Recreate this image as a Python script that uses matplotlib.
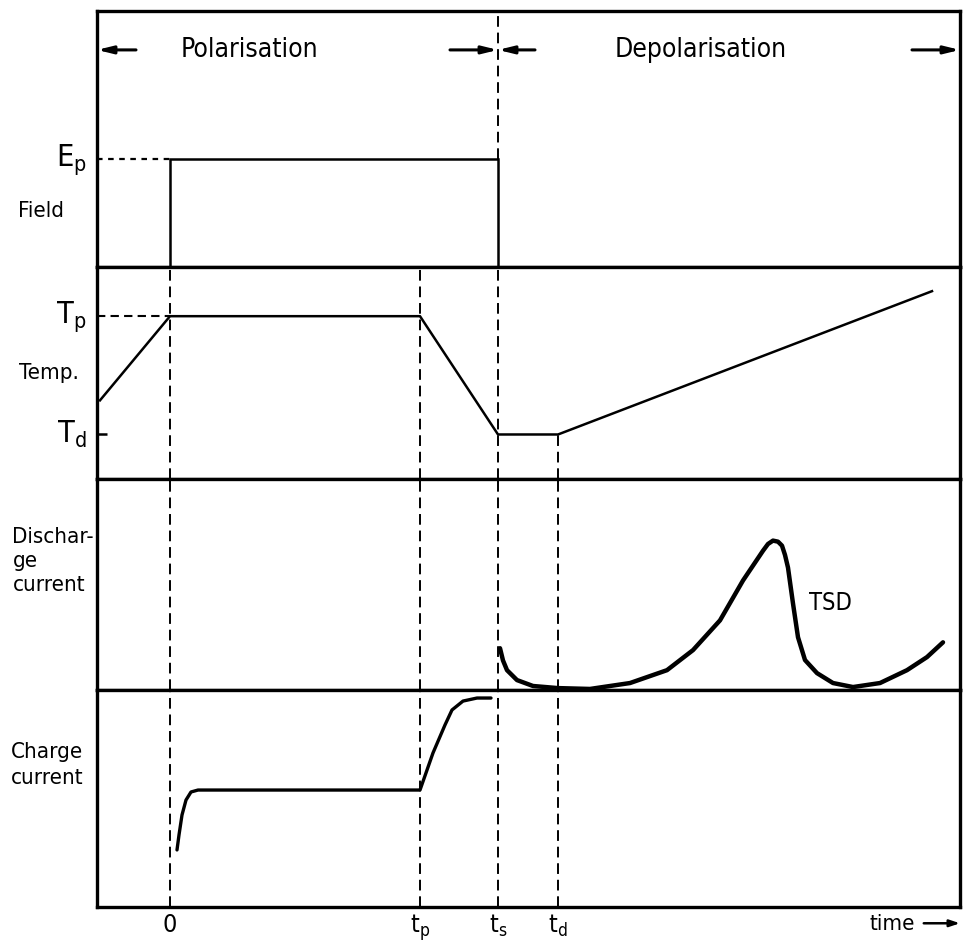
import matplotlib
matplotlib.use("Agg")
import matplotlib.pyplot as plt

plt.rcParams['font.family'] = ['DejaVu Sans']
plt.rcParams['font.stretch'] = 'condensed'
plt.rcParams['mathtext.fontset'] = 'custom'
plt.rcParams['mathtext.rm'] = 'DejaVu Sans:stretch=condensed'

# time axis (arbitrary units)
t_min, t_max = -7.3, 79.0
t_marks = [0, 25.0, 32.8, 38.8]
t_labels = ['0', r't$_\mathrm{p}$', r't$_\mathrm{s}$', r't$_\mathrm{d}$']

# field panel
Ep = 0.42
field_t = [0, 0, 32.8, 32.8]
field_v = [0, Ep, Ep, 0]

# temperature panel
Tp = 0.768
Td = 0.21
temp_t = [-7.0, 0, 25.0, 32.8, 38.8, 76.2]
temp_v = [0.371, Tp, Tp, Td, Td, 0.886]

# discharge current (TSD)
dis_t = [33.0, 33.3, 33.7, 34.7, 36.3, 38.8, 42.0, 46.0, 49.7, 52.3, 55.0, 57.3, 59.3,
         59.8, 60.3, 60.8, 61.2, 61.5, 61.8, 62.3, 62.8, 63.5, 64.7, 66.3, 68.3, 71.0,
         73.7, 75.7, 77.3]
dis_v = [0.198, 0.140, 0.094, 0.047, 0.019, 0.009, 0.005, 0.033, 0.094, 0.189, 0.330, 0.519,
         0.660, 0.692, 0.708, 0.703, 0.684, 0.640, 0.580, 0.410, 0.250, 0.142, 0.080, 0.033,
         0.014, 0.033, 0.094, 0.156, 0.226]

# charge current
chg_t = [0.7, 0.9, 1.2, 1.6, 2.1, 2.8, 25.0, 26.3, 27.5, 28.2, 29.3, 30.7, 32.1]
chg_v = [0.263, 0.332, 0.424, 0.493, 0.530, 0.539, 0.539, 0.710, 0.839, 0.908, 0.949, 0.963, 0.963]

fig = plt.figure(figsize=(9.65, 9.5), dpi=100)
W, H = 965.0, 950.0
left, right = 97, 960
bounds = [11, 267, 479, 690, 907]
axes = []
for i in range(4):
    top, bot = bounds[i], bounds[i + 1]
    ax = fig.add_axes([left / W, 1 - bot / H, (right - left) / W, (bot - top) / H])
    ax.set_xlim(t_min, t_max)
    ax.set_ylim(0, 1)
    ax.set_xticks([])
    ax.set_yticks([])
    for s in ax.spines.values():
        s.set_linewidth(2.4)
    axes.append(ax)
ax_f, ax_t, ax_d, ax_c = axes

dash = (0, (5.5, 3))
dlw = 1.4

# --- Field
ax_f.plot(field_t, field_v, color='k', lw=1.8, solid_joinstyle='miter')
ax_f.hlines(Ep, t_min, 0, colors='k', lw=1.6, linestyles=(0, (2.5, 2.5)))
ax_f.vlines(t_marks[2], Ep, 1, colors='k', lw=dlw, linestyles=dash)
arr_y = 0.848
ap = dict(arrowstyle='-|>,head_length=0.9,head_width=0.22', color='k', lw=2.2, shrinkA=0, shrinkB=0)
ax_f.annotate('', xy=(t_min, arr_y), xytext=(-3.4, arr_y), arrowprops=ap)
ax_f.annotate('', xy=(t_marks[2], arr_y), xytext=(28.0, arr_y), arrowprops=ap)
ax_f.annotate('', xy=(t_marks[2], arr_y), xytext=(36.5, arr_y), arrowprops=ap)
ax_f.annotate('', xy=(t_max, arr_y), xytext=(74.2, arr_y), arrowprops=ap)
ax_f.text(7.9, arr_y, 'Polarisation', ha='center', va='center', fontsize=19)
ax_f.text(53.1, arr_y, 'Depolarisation', ha='center', va='center', fontsize=19)
ax_f.text(-0.012, Ep, r'E$_\mathrm{p}$', transform=ax_f.get_yaxis_transform(),
          ha='right', va='center', fontsize=22)
ax_f.text(-0.092, 0.22, 'Field', transform=ax_f.transAxes, ha='left', va='center', fontsize=16)

# --- Temperature
ax_t.plot(temp_t, temp_v, color='k', lw=1.8)
ax_t.hlines(Tp, t_min, 0, colors='k', lw=1.5, linestyles=(0, (4, 2.5)))
ax_t.set_yticks([Td])
ax_t.set_yticklabels([])
ax_t.tick_params(axis='y', direction='in', length=7, width=1.8)
for tm in t_marks[:3]:
    ax_t.vlines(tm, 0, 1, colors='k', lw=dlw, linestyles=dash)
ax_t.vlines(t_marks[3], 0, Td, colors='k', lw=dlw, linestyles=dash)
ax_t.text(-0.012, Tp, r'T$_\mathrm{p}$', transform=ax_t.get_yaxis_transform(),
          ha='right', va='center', fontsize=22)
ax_t.text(-0.012, Td, r'T$_\mathrm{d}$', transform=ax_t.get_yaxis_transform(),
          ha='right', va='center', fontsize=22)
ax_t.text(-0.09, 0.50, 'Temp.', transform=ax_t.transAxes, ha='left', va='center', fontsize=16)

# --- Discharge current
ax_d.plot(dis_t, dis_v, color='k', lw=3.2, solid_capstyle='round', solid_joinstyle='round')
for tm in t_marks:
    ax_d.vlines(tm, 0, 1, colors='k', lw=dlw, linestyles=dash)
ax_d.text(66.0, 0.41, 'TSD', ha='center', va='center', fontsize=17)
ax_d.text(-0.098, 0.61, 'Dischar-\nge\ncurrent', transform=ax_d.transAxes,
          ha='left', va='center', fontsize=16, linespacing=1.25)

# --- Charge current
ax_c.plot(chg_t, chg_v, color='k', lw=2.4, solid_capstyle='round', solid_joinstyle='round')
for tm in t_marks:
    ax_c.vlines(tm, 0, 1, colors='k', lw=dlw, linestyles=dash)
ax_c.text(-0.1, 0.655, 'Charge\ncurrent', transform=ax_c.transAxes,
          ha='left', va='center', fontsize=16, linespacing=1.35)
ax_c.set_xticks(t_marks)
ax_c.set_xticklabels(t_labels, fontsize=18)
ax_c.tick_params(axis='x', length=0, pad=4)
ax_c.text(0.948, -0.08, 'time', transform=ax_c.transAxes, ha='right', va='center', fontsize=16)
ax_c.annotate('', xy=(1.0, -0.075), xytext=(0.958, -0.075), xycoords='axes fraction',
              textcoords='axes fraction',
              arrowprops=dict(arrowstyle='-|>,head_length=0.6,head_width=0.2', color='k',
                              lw=1.8, shrinkA=0, shrinkB=0), annotation_clip=False)

fig.savefig('out.png', dpi=100, facecolor='white')
